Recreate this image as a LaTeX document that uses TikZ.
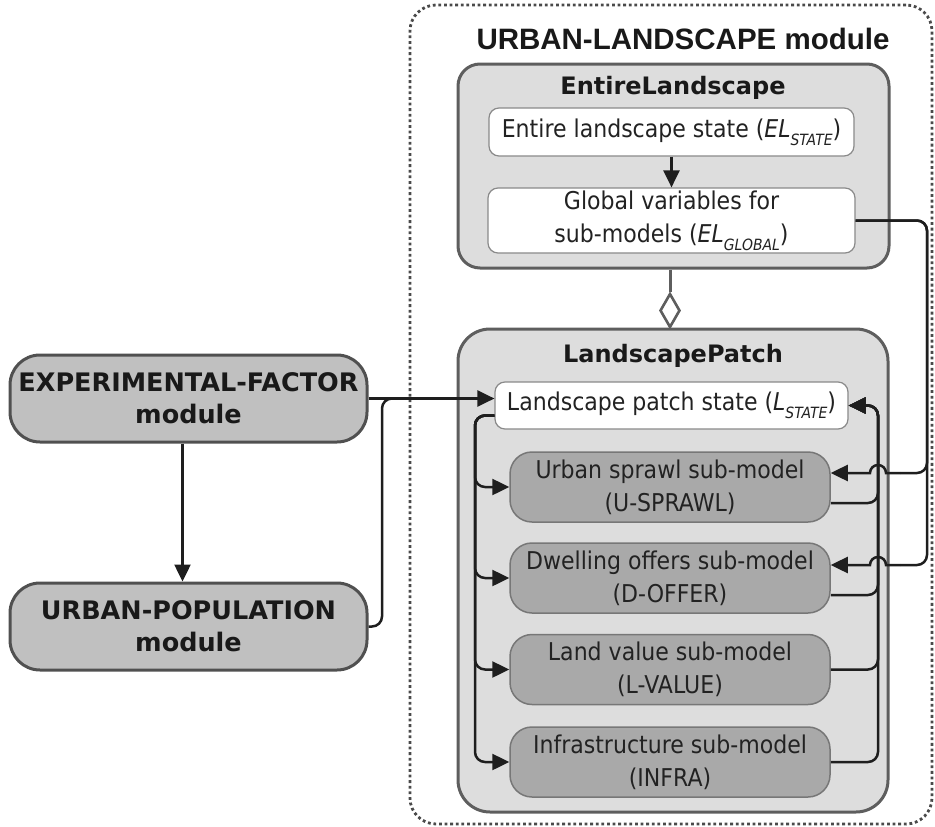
\documentclass[tikz,border=0pt]{standalone}
\usepackage{fontspec}
\setmainfont{DejaVu Sans}
\newfontfamily\regf{DejaVu Sans}[FakeStretch=0.9]
\newfontfamily\titlef{Liberation Sans}
\usetikzlibrary{arrows.meta,shapes.geometric}
\definecolor{lightfill}{HTML}{DDDDDD}
\definecolor{contborder}{HTML}{5E5E5E}
\definecolor{subfill}{HTML}{A9A9A9}
\definecolor{subborder}{HTML}{777777}
\definecolor{modfill}{HTML}{C0C0C0}
\definecolor{modborder}{HTML}{505050}
\definecolor{whiteborder}{HTML}{8A8A8A}
\definecolor{conncol}{HTML}{1E1E1E}
\definecolor{txt}{HTML}{222222}
\definecolor{frameline}{HTML}{4A4A4A}
\newcommand\subsc[1]{\raisebox{-0.32em}{\fontsize{15.5}{15.5}\selectfont\itshape #1}}
\begin{document}
\begin{tikzpicture}[x=1pt,y=-1pt,
  container/.style={draw=contborder, fill=lightfill, line width=3pt, inner sep=0pt},
  whitebox/.style={draw=whiteborder, fill=white, line width=1.2pt, rounded corners=10pt, inner sep=0pt, align=center, text=txt, font=\regf\fontsize{24.5}{33}\selectfont},
  subbox/.style={draw=subborder, fill=subfill, line width=1.5pt, rounded corners=22pt, minimum width=320pt, minimum height=70pt, inner sep=0pt, align=center, text=txt, font=\regf\fontsize{24.5}{33}\selectfont},
  modbox/.style={draw=modborder, fill=modfill, line width=3pt, rounded corners=30pt, minimum width=357pt, minimum height=87pt, inner sep=0pt, align=center, text=black!90, font=\bfseries\fontsize{25.5}{32}\selectfont},
  heading/.style={inner sep=0pt, text=black!90, font=\bfseries\fontsize{24}{28}\selectfont},
  conn/.style={draw=conncol, line width=2.5pt, rounded corners=10pt},
  sharpconn/.style={draw=conncol, line width=2.5pt},
  arr/.style={-{Triangle[length=17pt,width=16pt]}},
  aggline/.style={draw=contborder, line width=3pt}
]
\useasboundingbox (0,0) rectangle (935,827);

% outer dotted module frame
\node (ulframe) [draw=frameline, line width=2.8pt, dash pattern=on 2.8pt off 2.8pt, rounded corners=26pt, minimum width=522pt, minimum height=819pt, inner sep=0pt] at (671,414.5) {};
\node (ultitle) [inner sep=0pt, text=black!90, font=\titlef\bfseries\fontsize{29.5}{31}\selectfont] at (683,39) {URBAN-LANDSCAPE module};

% EntireLandscape container
\node (EL) [container, rounded corners=22pt, minimum width=431pt, minimum height=204pt] at (673.5,166) {};
\node (ELtitle) [heading] at (673,88) {EntireLandscape};
\node (els) [whitebox, minimum width=365pt, minimum height=48pt] at (671.5,132) {Entire landscape state (\textit{EL}\subsc{STATE})};
\node (glob) [whitebox, minimum width=367pt, minimum height=65pt] at (671.5,220.5) {Global variables for\\sub-models (\textit{EL}\subsc{GLOBAL})};

% LandscapePatch container
\node (LP) [container, rounded corners=32pt, minimum width=430pt, minimum height=483pt] at (673,570.5) {};
\node (LPtitle) [heading] at (673,356) {LandscapePatch};
\node (lps) [whitebox, minimum width=353pt, minimum height=47pt] at (671.5,405.5) {Landscape patch state (\textit{L}\subsc{STATE})};
\node (us) [subbox] at (670,487) {Urban sprawl sub-model\\(U-SPRAWL)};
\node (dw) [subbox] at (670,578) {Dwelling offers sub-model\\(D-OFFER)};
\node (lv) [subbox] at (670,669.5) {Land value sub-model\\(L-VALUE)};
\node (inf) [subbox] at (670,762) {Infrastructure sub-model\\(INFRA)};

% aggregation diamond
\node (agg) [diamond, draw=contborder, fill=white, line width=2.6pt, minimum width=20pt, minimum height=34pt, inner sep=0pt] at (670,310.5) {};
\draw[aggline] (agg.north |- EL.south) -- (agg.north);

% left modules
\node (EXP) [modbox] at (188.5,398.5) {EXPERIMENTAL-FACTOR\\module};
\node (UP) [modbox] at (188.5,626.5) {URBAN-POPULATION\\module};

% coordinates of bus lines
\coordinate (lx) at (382,0);
\coordinate (mg) at (430,0);
\coordinate (ib) at (475,0);
\coordinate (rb) at (878,0);
\coordinate (gb) at (927,0);
\coordinate (hopst) at (900,0);

% connectors
\draw[conn,arr] (els.south) -- (glob.north);
\draw[conn,arr] ([xshift=-6pt]EXP.south) -- ([xshift=-6pt]UP.north);
\draw[conn,arr] (EXP.east) -- (EXP.east -| lps.west);
\draw[conn] (UP.east) -- (UP.east -| lx) -- (EXP.east -| lx) -- (EXP.east -| mg);

\coordinate (lpsout) at ([yshift=-10pt]lps.west);
\foreach \b in {us,dw,lv,inf}{
  \draw[conn,arr] (lpsout) -- (lpsout -| ib) -- (\b.west -| ib) -- (\b.west);
}

\coordinate (usout) at ([yshift=-16pt]us.east);
\coordinate (dwout) at ([yshift=-17pt]dw.east);
\foreach \o in {usout,dwout,lv.east,inf.east}{
  \draw[conn,arr] (\o) -- (\o -| rb) -- (lps.east -| rb) -- (lps.east);
}

\coordinate (usin) at ([yshift=14pt]us.east);
\coordinate (dwin) at ([yshift=13pt]dw.east);
\foreach \i in {usin,dwin}{
  \draw[conn] (glob.east) -- (glob.east -| gb) -- (\i -| gb) -- (\i -| hopst);
  \draw[sharpconn,arr] (\i -| hopst) -- ([xshift=8pt]\i -| rb) arc[start angle=0,end angle=180,radius=8pt] -- (\i);
}
\end{tikzpicture}
\end{document}
